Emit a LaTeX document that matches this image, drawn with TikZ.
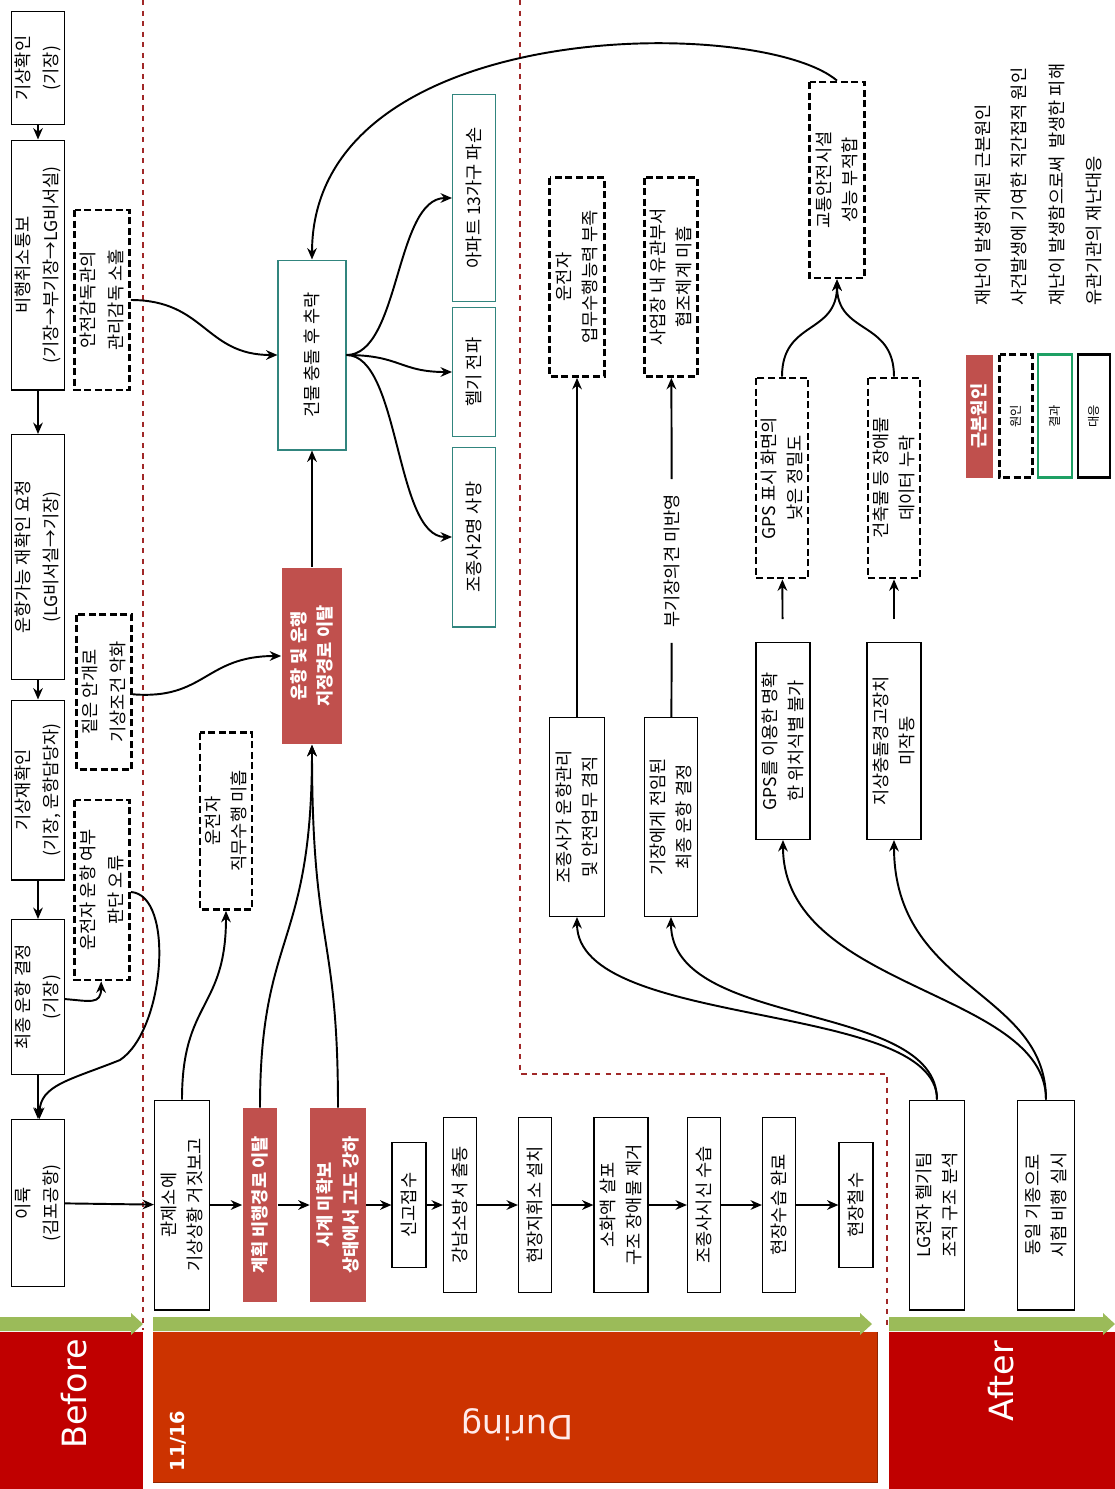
\documentclass[tikz,border=0pt]{standalone}
\usepackage{fontspec}
\setmainfont{Noto Sans CJK KR}
\newfontfamily\barfont{DejaVu Sans}
\usetikzlibrary{arrows.meta}
\definecolor{rootred}{RGB}{192,80,77}
\definecolor{damageteal}{RGB}{49,133,126}
\definecolor{keygreen}{RGB}{30,160,100}
\definecolor{phasered}{RGB}{192,0,0}
\definecolor{duringred}{RGB}{204,51,0}
\definecolor{sepred}{RGB}{160,40,40}
\definecolor{bargreen}{RGB}{155,187,89}

\begin{document}
\begin{tikzpicture}[x=0.02cm, y=-0.02cm]
  \tikzstyle{kbox} = [rectangle, rotate=90, align=center, inner sep=2pt, minimum height=1.1cm, font=\fontsize{10}{14.5}\selectfont]
  \tikzstyle{response} = [kbox, draw=black, semithick]
  \tikzstyle{cause} = [kbox, draw=black, dashed, dash pattern=on 4pt off 2pt, line width=1.6pt]
  \tikzstyle{rootcause} = [kbox, fill=rootred, text=white, font=\fontsize{10}{14.5}\selectfont\bfseries]
  \tikzstyle{damage} = [kbox, draw=damageteal, semithick]
  \tikzstyle{loose} = [font=\fontsize{10}{16}\selectfont]
  \tikzstyle{flow} = [line width=1.1pt, ->, >={Stealth[length=6.5pt, width=5.5pt]}]

  \useasboundingbox (0,0) rectangle (1115,1489);

  \draw [sepred, dashed, line width=0.6pt] (143,0) -- (143,1330);
  \draw [sepred, dashed, line width=0.6pt] (520,0) -- (520,1074) -- (887,1074) -- (887,1330);

  \fill [phasered] (0,1332) rectangle (143,1489);
  \fill [duringred] (153,1332) rectangle (877,1482);
  \draw [duringred!70!black] (153,1482) -- (877,1482) -- (877,1332);
  \fill [phasered] (889,1332) rectangle (1115,1489);
  \fill [bargreen] (0,1317) -- (131,1317) -- (131,1313) -- (143,1324) -- (131,1335) -- (131,1331) -- (0,1331) -- cycle;
  \fill [bargreen] (153,1317) -- (860,1317) -- (860,1313) -- (872,1324) -- (860,1335) -- (860,1331) -- (153,1331) -- cycle;
  \fill [bargreen] (889,1317) -- (1103,1317) -- (1103,1313) -- (1115,1324) -- (1103,1335) -- (1103,1331) -- (889,1331) -- cycle;

  \node (before) [rotate=90, text=white, font=\barfont\fontsize{19}{19}\selectfont] at (74,1394) {Before};
  \node (during) [rotate=180, text=red!8, font=\barfont\fontsize{19}{19}\selectfont] at (517,1425) {During};
  \node (after) [rotate=90, text=white, font=\barfont\fontsize{19}{19}\selectfont] at (1001,1381) {After};
  \node (date) [rotate=90, text=white, font=\barfont\bfseries\fontsize{11}{11}\selectfont] at (178,1441) {11/16};

  \node (a1) [response, loose, minimum width=2.26cm, minimum height=1.06cm] at (38,68) {기상확인\\(기장)};
  \node (a2) [response, loose, minimum width=5cm, minimum height=1.06cm] at (38,265) {비행취소통보\\(기장→부기장→LG비서실)};
  \node (a3) [response, loose, minimum width=4.9cm, minimum height=1.06cm] at (38,557) {운항가능 재확인 요청\\(LG비서실→기장)};
  \node (a4) [response, loose, minimum width=3.6cm, minimum height=1.06cm] at (38,790) {기상재확인\\(기장, 운항담당자)};
  \node (a5) [response, loose, minimum width=3.1cm, minimum height=1.06cm] at (38,997) {최종 운항 결정\\(기장)};
  \node (a6) [response, loose, minimum width=3.34cm, minimum height=1.06cm] at (38,1203) {이륙\\(김포공항)};

  \node (b1) [cause, loose, minimum width=3.6cm] at (102,300) {안전감독관의\\관리감독 소홀};
  \node (b2) [cause, loose, minimum width=3.1cm] at (104,692) {짙은 안개로\\기상조건 악화};
  \node (b3) [cause, loose, minimum width=3.6cm] at (102,890) {운전자 운항 여부\\판단 오류};

  \node (c1) [response, minimum width=4.2cm] at (182,1205) {관제소에\\기상상황 거짓보고};
  \node (c2) [rootcause, minimum width=3.88cm, minimum height=0.7cm] at (260,1205) {계획 비행경로 이탈};
  \node (c3) [rootcause, minimum width=3.88cm, minimum height=1.12cm] at (338,1205) {시계 미확보\\상태에서 고도 강하};
  \node (c4) [response, minimum width=2.5cm, minimum height=0.68cm] at (409,1205) {신고접수};
  \node (c5) [response, minimum width=3.5cm, minimum height=0.66cm] at (460,1205) {강남소방서 출동};
  \node (c6) [response, minimum width=3.5cm, minimum height=0.66cm] at (535,1205) {현장지휘소 설치};
  \node (c7) [response, minimum width=3.5cm, minimum height=1.08cm] at (621,1205) {소화액 살포\\구조 장애물 제거};
  \node (c8) [response, minimum width=3.5cm, minimum height=0.66cm] at (704,1205) {조종사시신 수습};
  \node (c9) [response, minimum width=3.5cm, minimum height=0.66cm] at (779,1205) {현장수습 완료};
  \node (c10) [response, minimum width=2.5cm, minimum height=0.68cm] at (856,1205) {현장철수};

  \node (d1) [cause, minimum width=3.54cm, minimum height=1.04cm] at (226,821) {운전자\\직무수행 미흡};
  \node (e1) [rootcause, minimum width=3.54cm, minimum height=1.22cm] at (312,656) {운항 및 운행\\지정경로 이탈};
  \node (e2) [damage, minimum width=3.8cm, minimum height=1.36cm] at (312,355) {건물 충돌 후 추락};
  \node (f1) [damage, minimum width=4.14cm, minimum height=0.86cm] at (474,198) {아파트 13가구 파손};
  \node (f2) [damage, minimum width=2.58cm, minimum height=0.86cm] at (474,372) {헬기 전파};
  \node (f3) [damage, minimum width=3.6cm, minimum height=0.86cm] at (474,537) {조종사2명 사망};

  \node (g1) [cause, minimum width=3.98cm] at (577,277) {운전자\\업무수행능력 부족};
  \node (g2) [cause, minimum width=3.98cm, minimum height=1.06cm] at (671,277) {사업장 내 유관부서\\협조체계 미흡};
  \node (g3) [cause, minimum width=3.92cm] at (837,180) {교통안전시설\\성능 부적합};
  \node (g4) [cause, minimum width=4cm, minimum height=1.04cm] at (782,478) {GPS 표시 화면의\\낮은 정밀도};
  \node (g5) [cause, minimum width=4cm, minimum height=1.04cm] at (894,478) {건축물 등 장애물\\데이터 누락};
  \node (h1) [response, minimum width=3.98cm] at (577,817) {조종사가 운항관리\\및 안전업무 겸직};
  \node (h2) [response, minimum width=3.98cm, minimum height=1.06cm] at (671,817) {기장에게 전임된\\최종 운항 결정};
  \node (h3) [response, minimum width=3.94cm, minimum height=1.08cm] at (783,741) {GPS를 이용한 명확\\한 위치식별 불가};
  \node (h4) [response, minimum width=3.94cm, minimum height=1.08cm] at (894,741) {지상충돌경고장치\\미작동};
  \node (opinion) [rotate=90, inner xsep=0.3cm, font=\fontsize{10}{12}\selectfont] at (672,561) {부기장의견 미반영};
  \node (i1) [response, minimum width=4.2cm] at (937,1205) {LG전자 헬기팀\\조직 구조 분석};
  \node (i2) [response, minimum width=4.2cm, minimum height=1.14cm] at (1046,1205) {동일 기종으로\\시험 비행 실시};

  \node (keyroot) [rootcause, minimum width=2.46cm, minimum height=0.54cm, inner sep=0pt] at (979,416) {근본원인};
  \node (keycause) [cause, minimum width=2.46cm, minimum height=0.66cm, inner sep=0pt, font=\fontsize{7}{7}\selectfont] at (1016,416) {원인};
  \node (keydamage) [kbox, draw=keygreen, line width=1.6pt, minimum width=2.46cm, minimum height=0.68cm, inner sep=0pt, font=\fontsize{7}{7}\selectfont] at (1055,416) {결과};
  \node (keyresponse) [kbox, draw=black, line width=1.6pt, minimum width=2.46cm, minimum height=0.64cm, inner sep=0pt, font=\fontsize{7}{7}\selectfont] at (1094,416) {대응};
  \node (rootnote) [rotate=90, anchor=west, font=\fontsize{10}{12}\selectfont] at (983,312) {재난이 발생하게된 근본원인};
  \node (causenote) [rotate=90, anchor=west, font=\fontsize{10}{12}\selectfont] at (1019,312) {사건발생에 기여한 직간접적 원인};
  \node (damagenote) [rotate=90, anchor=west, font=\fontsize{10}{12}\selectfont] at (1057,312) {재난이 발생함으로써\ \ 발생한 피해};
  \node (responsenote) [rotate=90, anchor=west, font=\fontsize{10}{12}\selectfont] at (1094,312) {유관기관의 재난대응};

  \draw [flow] (a1) -- (a2);
  \draw [flow] (a2) -- (a3);
  \draw [flow] (a3) -- (a4);
  \draw [flow] (a4) -- (a5);
  \draw [flow] (a5) -- (a6);
  \draw [flow] (a5) .. controls (90,1001) and (101,1005) .. (b3);
  \draw [flow] (b3) .. controls (175,895) and (165,1030) .. (120,1060) .. controls (70,1080) and (40,1085) .. (a6);
  \draw [flow] (b1) .. controls (205,300) and (205,355) .. (e2);
  \draw [flow] (b2) .. controls (205,700) and (205,656) .. (e1);

  \draw [flow] (a6) -- (c1);
  \draw [flow] (c1) -- (c2);
  \draw [flow] (c2) -- (c3);
  \draw [flow] (c3) -- (c4);
  \draw [flow] (c4) -- (c5);
  \draw [flow] (c5) -- (c6);
  \draw [flow] (c6) -- (c7);
  \draw [flow] (c7) -- (c8);
  \draw [flow] (c8) -- (c9);
  \draw [flow] (c9) -- (c10);
  \draw [flow] (c1) .. controls (182,1000) and (226,1010) .. (d1);
  \draw [flow] (c2) .. controls (260,930) and (312,950) .. (e1);
  \draw [flow] (c3) .. controls (338,930) and (312,950) .. (e1);
  \draw [flow] (e1) -- (e2);
  \draw [flow] (e2) .. controls (400,355) and (395,198) .. (f1);
  \draw [flow] (e2) .. controls (400,355) and (400,372) .. (f2);
  \draw [flow] (e2) .. controls (400,355) and (395,537) .. (f3);
  \draw [flow] (g3.east) .. controls (760,15) and (312,15) .. (e2);

  \draw [flow] (h1) -- (g1);
  \draw [line width=1.1pt] (h2) -- (opinion);
  \draw [flow] (opinion) -- (g2);
  \draw [flow, shorten <=0.46cm] (h3) -- (g4);
  \draw [flow, shorten <=0.46cm] (h4) -- (g5);
  \draw [flow] (g4) .. controls (782,320) and (837,335) .. (g3);
  \draw [flow] (g5) .. controls (894,320) and (837,335) .. (g3);
  \draw [flow] (i1) .. controls (937,1000) and (577,1030) .. (h1);
  \draw [flow] (i1) .. controls (937,1000) and (671,1030) .. (h2);
  \draw [flow] (i2) .. controls (1046,990) and (783,990) .. (h3);
  \draw [flow] (i2) .. controls (1046,990) and (894,990) .. (h4);
\end{tikzpicture}
\end{document}
